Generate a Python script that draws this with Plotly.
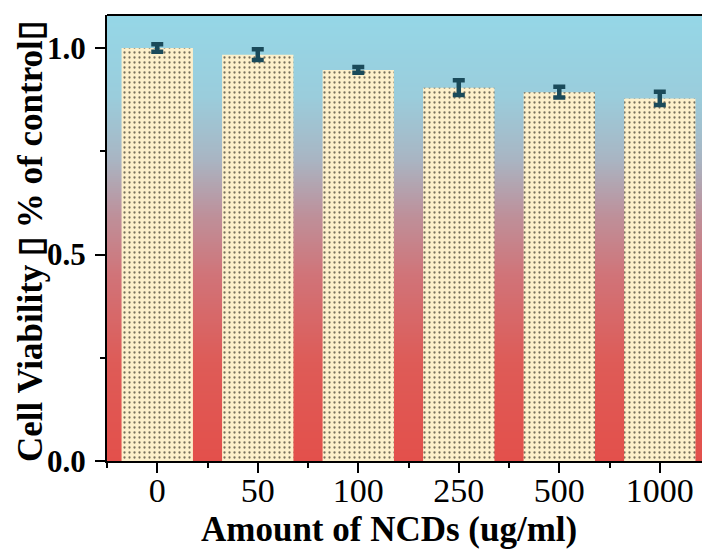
import numpy as np
import plotly.graph_objects as go

# Data
concentrations = ["0", "50", "100", "250", "500", "1000"]
viability = [1.000, 0.984, 0.947, 0.904, 0.893, 0.878]
viability_err = [0.009, 0.013, 0.007, 0.018, 0.013, 0.016]

Y_MAX = 1.08
X_MIN, X_MAX = -0.5, 5.42
xpos = list(range(len(concentrations)))

SERIF = "Liberation Serif, Times New Roman, serif"

fig = go.Figure()

# Vertical gradient background (red at the bottom, light blue at the top)
n_rows = 216
y_edges = np.linspace(0, Y_MAX, n_rows + 1)
y_mid = (y_edges[:-1] + y_edges[1:]) / 2
fig.add_trace(go.Heatmap(
    x=[-0.6, 5.6],
    y=y_edges,
    z=[[v] for v in y_mid],
    zmin=0, zmax=Y_MAX,
    colorscale=[
        [0.00, "#e3504b"],
        [0.22, "#de5b57"],
        [0.42, "#d07479"],
        [0.55, "#be909a"],
        [0.68, "#a8b6c4"],
        [0.82, "#9acddc"],
        [1.00, "#95d7e7"],
    ],
    showscale=False,
    hoverinfo="skip",
))

# Bars with a dotted texture and error bars
fig.add_trace(go.Bar(
    x=xpos,
    y=viability,
    width=0.71,
    marker=dict(
        color="#fdf0cb",
        line=dict(width=0),
        pattern=dict(shape=".", fgcolor="#3e372c", bgcolor="#fdf0cb",
                     size=5, solidity=0.16, fgopacity=0.7),
    ),
    error_y=dict(type="data", array=viability_err, visible=True,
                 color="#1a4a5a", thickness=4.5, width=6),
    hoverinfo="skip",
))

# Top frame line
fig.add_shape(type="line", xref="paper", yref="paper", x0=0, x1=1, y0=1, y1=1,
              line=dict(color="black", width=2))

fig.update_layout(
    width=702, height=549,
    margin=dict(l=107, r=0, t=15, b=88),
    paper_bgcolor="white",
    plot_bgcolor="white",
    showlegend=False,
    xaxis=dict(
        range=[X_MIN, X_MAX],
        tickmode="array",
        tickvals=xpos,
        ticktext=concentrations,
        ticks="outside", ticklen=10, tickwidth=2, tickcolor="black",
        ticklabelstandoff=-12,
        minor=dict(tickmode="array", tickvals=[i - 0.5 for i in range(7)],
                   ticks="outside", ticklen=5, tickwidth=2, tickcolor="black"),
        showline=True, linecolor="black", linewidth=2,
        showgrid=False, zeroline=False,
        tickfont=dict(family=SERIF, size=34, color="black"),
    ),
    yaxis=dict(
        range=[0, Y_MAX],
        tickvals=[0, 0.5, 1.0],
        ticktext=["0.0", "0.5", "1.0"],
        ticks="outside", ticklen=10, tickwidth=2, tickcolor="black",
        ticklabelstandoff=3,
        minor=dict(tickvals=[0.25, 0.75], ticks="outside", ticklen=5,
                   tickwidth=2, tickcolor="black"),
        showline=True, linecolor="black", linewidth=2,
        showgrid=False, zeroline=False,
        tickfont=dict(family=SERIF, size=31, color="black", weight="bold"),
    ),
    annotations=[
        dict(text="Amount of NCDs (ug/ml)", xref="paper", yref="paper",
             x=(389 - 107) / 595, y=-(529 - 461) / 446,
             xanchor="center", yanchor="middle", showarrow=False,
             font=dict(family=SERIF, size=35, color="black", weight="bold")),
        dict(text="Cell Viability \u25af % of control\u25af", xref="paper", yref="paper",
             x=-(107 - 30) / 595, y=(461 - 242) / 446,
             xanchor="center", yanchor="middle", showarrow=False, textangle=-90,
             font=dict(family=SERIF, size=35, color="black", weight="bold")),
    ],
)

fig.write_html("out.html")
